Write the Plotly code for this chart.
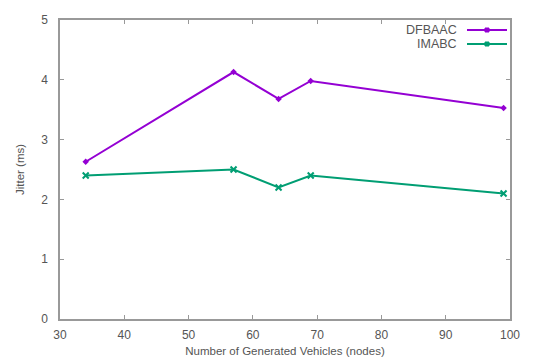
import plotly.graph_objects as go

nodes = [34, 57, 64, 69, 99]
dfbaac = [2.63, 4.13, 3.68, 3.98, 3.53]
imabc = [2.40, 2.50, 2.20, 2.40, 2.10]
series_names = ["DFBAAC", "IMABC"]
colors = ["#9400D3", "#009E73"]

x_ticks = [30, 40, 50, 60, 70, 80, 90, 100]
y_ticks = [0, 1, 2, 3, 4, 5]

font = dict(family="Liberation Sans, Arial, sans-serif", size=12, color="#555")
title_font = dict(family=font["family"], size=11.5, color="#555")

fig = go.Figure()
fig.add_trace(go.Scatter(x=nodes, y=dfbaac, mode="lines+markers", name=series_names[0],
                         line=dict(color=colors[0], width=2),
                         marker=dict(symbol="diamond", size=5, color=colors[0]),
                         showlegend=False))
fig.add_trace(go.Scatter(x=nodes, y=imabc, mode="lines+markers", name=series_names[1],
                         line=dict(color=colors[1], width=2),
                         marker=dict(symbol="x-thin-open", size=6, line=dict(color=colors[1], width=2)),
                         showlegend=False))

axis_common = dict(showgrid=False, zeroline=False, showline=True, linecolor="#999", linewidth=1.5,
                   mirror="ticks", ticks="inside", ticklen=4, tickcolor="#999",
                   tickfont=font, automargin=False)
fig.update_xaxes(range=[30, 100], tickvals=x_ticks, ticklabelstandoff=4,
                 title=dict(text="Number of Generated Vehicles (nodes)", font=title_font, standoff=6),
                 **axis_common)
fig.update_yaxes(range=[0, 5], tickvals=y_ticks, ticklabelstandoff=8,
                 title=dict(text="Jitter (ms)", font=title_font, standoff=14),
                 **axis_common)

# gnuplot-style legend (text right-aligned, sample on the right)
W, H = 535, 359
ml, mr, mt, mb = 60, 25, 20, 40
pw, ph = W - ml - mr, H - mt - mb
def px(x): return (x - ml) / pw
def py(y): return 1 - (y - mt) / ph
for i, (nm, c) in enumerate(zip(series_names, colors)):
    yy = 30 + 14 * i
    fig.add_annotation(x=px(459), y=py(yy), xref="paper", yref="paper", text=nm, showarrow=False,
                       xanchor="right", yanchor="middle", font=dict(family=font["family"], size=12.5, color="#555"))
    fig.add_shape(type="line", x0=px(467), x1=px(507), y0=py(yy), y1=py(yy), xref="paper", yref="paper",
                  line=dict(color=c, width=2))
    fig.add_shape(type="rect", x0=px(485), x1=px(489), y0=py(yy - 2), y1=py(yy + 2), xref="paper", yref="paper",
                  line=dict(color=c, width=1), fillcolor=c)

fig.update_layout(width=W, height=H, margin=dict(l=ml, r=mr, t=mt, b=mb),
                  plot_bgcolor="white", paper_bgcolor="white", font=font)
fig.write_html("out.html")
